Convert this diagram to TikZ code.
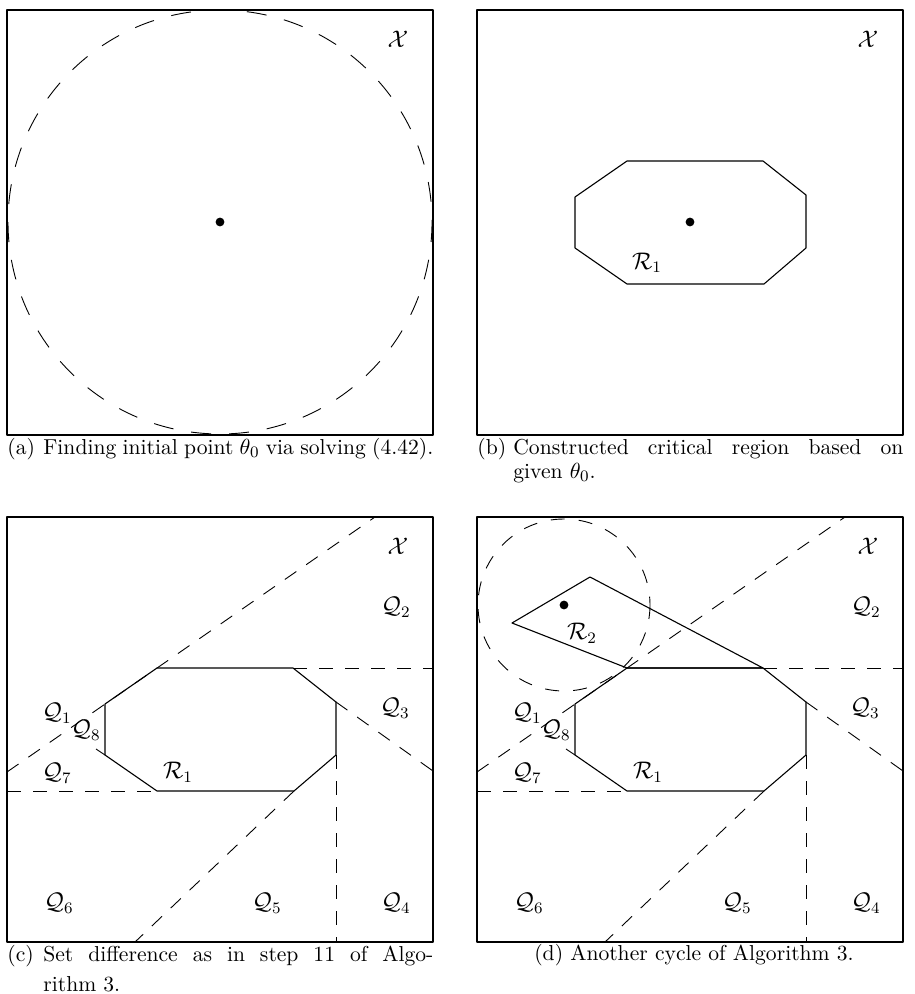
\documentclass[tikz,border=0pt]{standalone}
\usepackage{amsmath}
\begin{document}
\begin{tikzpicture}[x=0.5pt,y=-0.5pt,line join=round,
    frame/.style={line width=0.6pt},
    region/.style={line width=0.55pt},
    cut/.style={line width=0.45pt,dash pattern=on 7pt off 6pt},
    ball/.style={line width=0.45pt,dash pattern=on 10pt off 9pt},
    lab/.style={inner sep=0pt,font=\fontsize{12}{14}\selectfont},
    capt/.style={inner sep=0pt,anchor=north west,text width=213pt,align=justify,font=\fontsize{10.8}{13}\selectfont}]
\useasboundingbox (0,0) rectangle (914,994);
% (a) initial point
\begin{scope}[shift={(7,10)}]
  \path (213,212) coordinate (T);
  \draw[ball] (T) circle (212);
  \draw[frame] (0,0) rectangle (426,425);
  \fill (T) circle (2.2pt);
  \node[lab] (Xa) at (391,29) {$\mathcal{X}$};
\end{scope}
% (b) first critical region
\begin{scope}[shift={(477,10)}]
  \path
  (150,151) coordinate (A)
  (286,151) coordinate (B)
  (329,185) coordinate (C)
  (329,238) coordinate (D)
  (287,274) coordinate (E)
  (150,274) coordinate (F)
  (98,238) coordinate (G)
  (98,187) coordinate (H)
  (213,212) coordinate (T);
  \draw[frame] (0,0) rectangle (426,425);
  \draw[region] (A) -- (B) -- (C) -- (D) -- (E) -- (F) -- (G) -- (H) -- cycle;
  \fill (T) circle (2.2pt);
  \node[lab] (Xb) at (391,29) {$\mathcal{X}$};
  \node[lab] (R1b) at (170,253) {$\mathcal{R}_1$};
\end{scope}
% (c) set difference
\begin{scope}[shift={(7,517)}]
  \path
  (150,151) coordinate (A)
  (286,151) coordinate (B)
  (329,185) coordinate (C)
  (329,238) coordinate (D)
  (287,274) coordinate (E)
  (150,274) coordinate (F)
  (98,238) coordinate (G)
  (98,187) coordinate (H);
  \draw[cut] (0,255) -- (368,0);
  \draw[cut] (B) -- (426,151);
  \draw[cut] (C) -- (426,254);
  \draw[cut] (D) -- (329,425);
  \draw[cut] (E) -- (128,425);
  \draw[cut] (0,274) -- (F);
  \draw[cut] (G) -- (89,232);
  \draw[frame] (0,0) rectangle (426,425);
  \draw[region] (A) -- (B) -- (C) -- (D) -- (E) -- (F) -- (G) -- (H) -- cycle;
  \node[lab] (Xc) at (391,29) {$\mathcal{X}$};
  \node[lab] (R1c) at (171,255) {$\mathcal{R}_1$};
  \node[lab] (Q1c) at (50,196) {$\mathcal{Q}_1$};
  \node[lab] (Q2c) at (389,90) {$\mathcal{Q}_2$};
  \node[lab] (Q3c) at (388,191) {$\mathcal{Q}_3$};
  \node[lab] (Q4c) at (389,386) {$\mathcal{Q}_4$};
  \node[lab] (Q5c) at (260,386) {$\mathcal{Q}_5$};
  \node[lab] (Q6c) at (52,386) {$\mathcal{Q}_6$};
  \node[lab] (Q7c) at (50,256) {$\mathcal{Q}_7$};
  \node[lab] (Q8c) at (79,213) {$\mathcal{Q}_8$};
\end{scope}
% (d) next cycle
\begin{scope}[shift={(477,517)}]
  \path
  (150,151) coordinate (A)
  (286,151) coordinate (B)
  (329,185) coordinate (C)
  (329,238) coordinate (D)
  (287,274) coordinate (E)
  (150,274) coordinate (F)
  (98,238) coordinate (G)
  (98,187) coordinate (H)
  (35,106) coordinate (P)
  (113,60) coordinate (Q)
  (87,88) coordinate (T);
  \draw[cut] (0,255) -- (368,0);
  \draw[cut] (B) -- (426,151);
  \draw[cut] (C) -- (426,254);
  \draw[cut] (D) -- (329,425);
  \draw[cut] (E) -- (128,425);
  \draw[cut] (0,274) -- (F);
  \draw[cut] (G) -- (89,232);
  \draw[cut,dash pattern=on 7pt off 7pt] (T) circle (86);
  \draw[frame] (0,0) rectangle (426,425);
  \draw[region] (A) -- (B) -- (C) -- (D) -- (E) -- (F) -- (G) -- (H) -- cycle;
  \draw[region] (P) -- (Q) -- (B) -- (A) -- cycle;
  \fill (T) circle (2.2pt);
  \node[lab] (Xd) at (391,29) {$\mathcal{X}$};
  \node[lab] (R1d) at (171,255) {$\mathcal{R}_1$};
  \node[lab] (R2d) at (105,116) {$\mathcal{R}_2$};
  \node[lab] (Q1d) at (50,196) {$\mathcal{Q}_1$};
  \node[lab] (Q2d) at (389,90) {$\mathcal{Q}_2$};
  \node[lab] (Q3d) at (388,191) {$\mathcal{Q}_3$};
  \node[lab] (Q4d) at (389,386) {$\mathcal{Q}_4$};
  \node[lab] (Q5d) at (260,386) {$\mathcal{Q}_5$};
  \node[lab] (Q6d) at (52,386) {$\mathcal{Q}_6$};
  \node[lab] (Q7d) at (50,256) {$\mathcal{Q}_7$};
  \node[lab] (Q8d) at (79,213) {$\mathcal{Q}_8$};
\end{scope}
% captions
\node[capt] (capa) at (7,438) {\makebox[18pt][l]{(a)}Finding initial point $\theta_0$ via solving (4.42).\par};
\node[capt] (capb) at (477,438) {\baselineskip=12pt\hangindent=18pt\hangafter=1\makebox[18pt][l]{(b)}Constructed critical region based on\linebreak given $\theta_0$.\par};
\node[capt] (capc) at (7,945) {\baselineskip=15pt\hangindent=18pt\hangafter=1\makebox[18pt][l]{(c)}Set difference as in step 11 of Algo-\linebreak rithm 3.\par};
\node[lab,font=\fontsize{10.8}{13}\selectfont,anchor=base] (capd) at (694,960) {\makebox[18pt][l]{(d)}Another cycle of Algorithm 3.};
\end{tikzpicture}
\end{document}
